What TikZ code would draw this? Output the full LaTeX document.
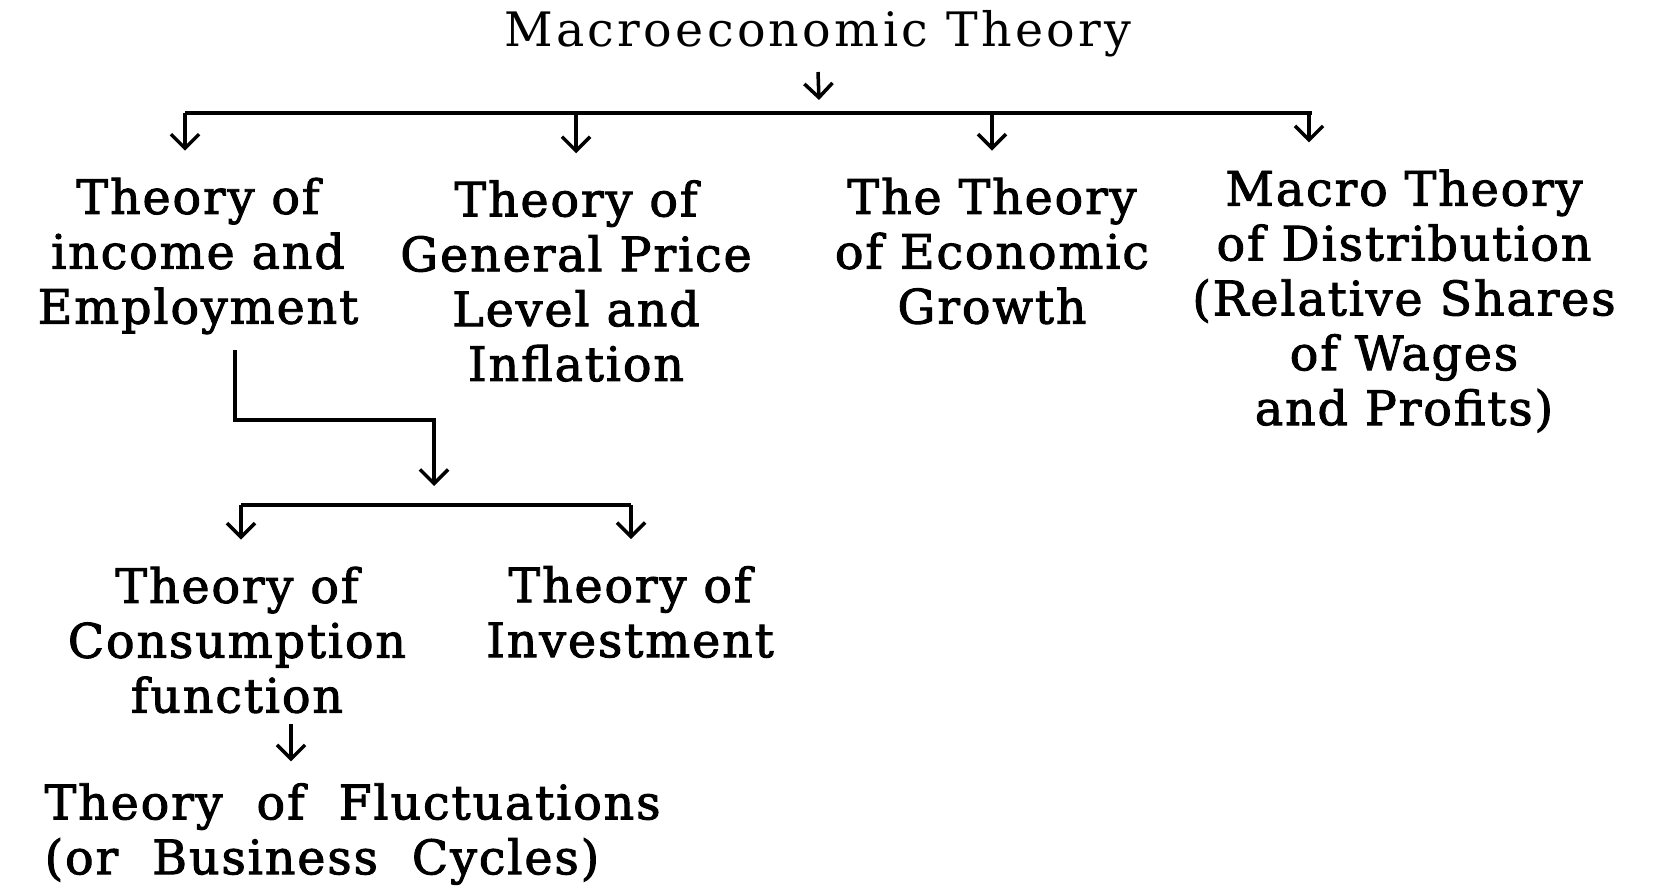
\documentclass[tikz,border=0pt]{standalone}
\usepackage{fontspec}
\setmainfont{DejaVu Serif}[FakeBold=2, LetterSpace=4]
\newfontfamily\rootfont{DejaVu Serif}[LetterSpace=7]
\newfontfamily\widefont{DejaVu Serif}[FakeBold=2, LetterSpace=4, WordSpace=2]
\usepackage{tikz}
\usetikzlibrary{arrows.meta}

\begin{document}
\begin{tikzpicture}[
  x=0.01cm, y=-0.01cm,
  font=\fontsize{13.5}{15.6}\selectfont,
  every node/.style={align=center, inner sep=0pt},
  topic/.style={text=black},
  arr/.style={-{Straight Barb[length=4pt,width=8pt]}, line width=1pt},
  bar/.style={line width=1.2pt},
]
\useasboundingbox (0,0) rectangle (1658,886);

% ---- Row 0: root ----------------------------------------------------------
\node[topic, font=\rootfont\fontsize{13.5}{15.6}\selectfont] (macro) at (818,34) {Macroeconomic Theory};

% ---- Row 1: four branches -------------------------------------------------
\node[topic] (income)  at (198,256)  {Theory of\\income and\\Employment};
\node[topic] (price)   at (576,281)  {Theory of\\General Price\\Level and\\Inflation};
\node[topic] (growth)  at (992,251)  {The Theory\\of Economic\\Growth};
\node[topic] (distrib) at (1404,301) {Macro Theory\\of Distribution\\(Relative Shares\\of Wages\\and Profits)};

\coordinate (b1) at (185,113);
\coordinate (b2) at (576,113);
\coordinate (b3) at (992,113);
\coordinate (b4) at (1309,113);
\coordinate (b0) at (819,113);

\draw[arr] ([yshift=-1.4mm]macro.south) -- ([yshift=1.3mm]b0);
\draw[bar] (b1) -- ([xshift=0.3mm]b4);
\draw[arr] (b1) -- ([yshift=7.5pt]income.north -| b1);
\draw[arr] (b2) -- ([yshift=7.5pt]price.north -| b2);
\draw[arr] (b3) -- ([yshift=7.5pt]growth.north -| b3);
\draw[arr] (b4) -- ([yshift=7.5pt]distrib.north -| b4);

% ---- Row 2: income and employment splits ----------------------------------
\node[topic] (consum) at (237,640) {Theory of\\Consumption\\function};
\node[topic] (invest) at (630,612) {Theory of\\Investment};

\coordinate (j1) at (434,486);
\coordinate (c1) at (241,505);
\coordinate (c2) at (631,505);

\draw[arr] ([shift={(3.7mm,-1.5mm)}]income.south) -- ++(0,70) -| (j1);
\draw[bar] (c1) -- (c2);
\draw[arr] (c1) -- ([yshift=7.5pt]consum.north -| c1);
\draw[arr] (c2) -- ([yshift=7.5pt]invest.north -| c2);

% ---- Row 3: fluctuations --------------------------------------------------
\node[topic, align=left, anchor=west, font=\widefont\fontsize{13.5}{15.6}\selectfont] (fluct) at (44,834) {Theory of Fluctuations\\(or Business Cycles)};
\draw[arr] ([shift={(5.4mm,-1mm)}]consum.south) -- ([shift={(5.4mm,6pt)}]consum.south |- fluct.north);
\end{tikzpicture}
\end{document}
